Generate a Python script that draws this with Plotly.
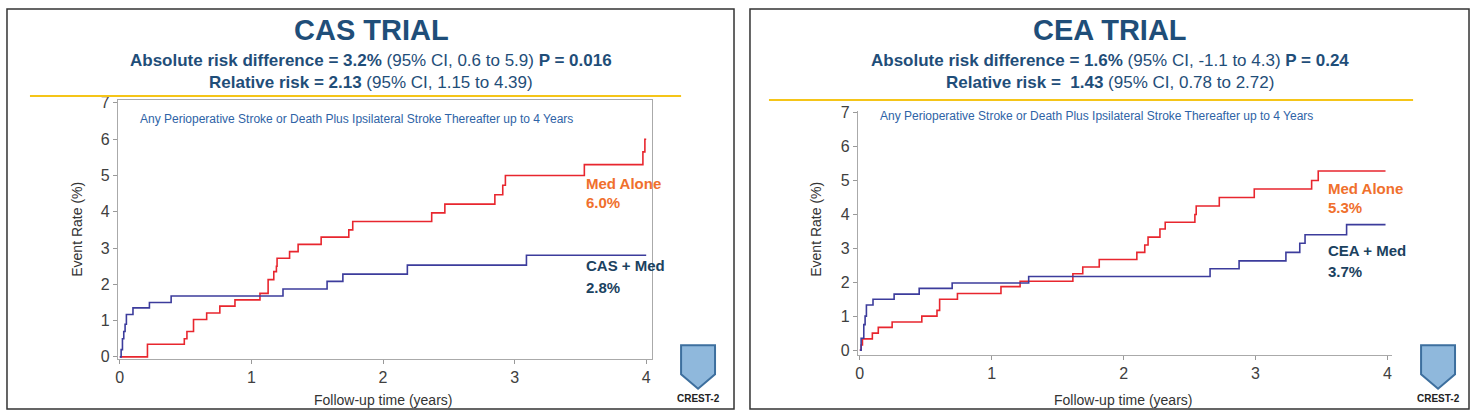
import plotly.graph_objects as go

W, H = 1474, 419
# CAS trial
cas_med_x = [0, 0.21, 0.49, 0.51, 0.56, 0.66, 0.76, 0.875, 1.065, 1.127, 1.17, 1.19, 1.195, 1.29, 1.355, 1.53, 1.74, 1.77, 2.37, 2.47, 2.85, 2.91, 2.93, 3.53, 3.975, 3.99, 4.0]
cas_med_y = [0, 0.35, 0.5, 0.7, 1.03, 1.21, 1.4, 1.57, 1.75, 2.13, 2.35, 2.5, 2.72, 2.9, 3.1, 3.3, 3.5, 3.73, 3.97, 4.21, 4.47, 4.73, 5.0, 5.3, 5.65, 6.0, 6.0]
cas_trt_x = [0, 0.01, 0.02, 0.03, 0.04, 0.05, 0.1, 0.225, 0.39, 1.24, 1.575, 1.695, 2.185, 3.09, 4.0]
cas_trt_y = [0, 0.2, 0.5, 0.7, 0.9, 1.17, 1.35, 1.5, 1.68, 1.87, 2.08, 2.28, 2.53, 2.8, 2.8]
# CEA trial
cea_med_x = [0, 0.01, 0.02, 0.095, 0.14, 0.245, 0.47, 0.585, 0.605, 0.74, 1.07, 1.215, 1.615, 1.69, 1.815, 2.1, 2.16, 2.185, 2.275, 2.315, 2.54, 2.55, 2.725, 2.99, 3.425, 3.475, 3.985]
cea_med_y = [0, 0.15, 0.33, 0.5, 0.67, 0.83, 1.0, 1.17, 1.5, 1.67, 1.87, 2.03, 2.25, 2.45, 2.67, 2.88, 3.1, 3.33, 3.57, 3.77, 4.0, 4.25, 4.5, 4.75, 5.0, 5.28, 5.28]
cea_trt_x = [0, 0.01, 0.03, 0.04, 0.05, 0.1, 0.26, 0.45, 0.7, 1.28, 2.655, 2.875, 3.23, 3.335, 3.375, 3.69, 3.985]
cea_trt_y = [0, 0.35, 0.75, 1.0, 1.33, 1.5, 1.65, 1.82, 1.98, 2.17, 2.4, 2.63, 2.88, 3.15, 3.4, 3.7, 3.7]

RED, BLUE = "#e8262e", "#3c3c9c"
NAVY = "#1f4e79"
ORANGE = "#f0702d"
DARK = "#1b4260"

fig = go.Figure()
for xs, ys, c, ax in [(cas_med_x, cas_med_y, RED, ""), (cas_trt_x, cas_trt_y, BLUE, ""),
                      (cea_med_x, cea_med_y, RED, "2"), (cea_trt_x, cea_trt_y, BLUE, "2")]:
    fig.add_trace(go.Scatter(x=xs, y=ys, mode="lines", line=dict(color=c, width=1.6, shape="hv"),
                             xaxis="x" + ax, yaxis="y" + ax, showlegend=False, hoverinfo="skip"))

tick = dict(family="Arial, Liberation Sans", size=16, color="#404040")
common = dict(showgrid=False, zeroline=False, ticks="outside", ticklen=4, tickcolor="#999",
              linecolor="#aaa", tickfont=tick, dtick=1)
fig.update_layout(
    width=W, height=H, margin=dict(l=0, r=0, t=0, b=0), paper_bgcolor="white", plot_bgcolor="white",
    xaxis=dict(common, domain=[116/W, 651/W], range=[-0.015, 4.045], mirror=True, showline=True),
    yaxis=dict(common, domain=[55/H, 322/H], range=[-0.05, 7.08], mirror=True, showline=True),
    xaxis2=dict(common, domain=[857/W, 1392/W], range=[-0.015, 4.035], showline=True, anchor="y2"),
    yaxis2=dict(common, domain=[59/H, 311/H], range=[-0.14, 7.06], showline=True, anchor="x2"),
)

def txt(x, y, s, size, color, bold=False, anchor="center", angle=0):
    fig.add_annotation(x=x/W, y=1-y/H, xref="paper", yref="paper", text=(f"<b>{s}</b>" if bold else s),
                       showarrow=False, xanchor=anchor, yanchor="middle", textangle=angle,
                       font=dict(family="Arial, Liberation Sans", size=size, color=color))

shapes = []
for x0, x1 in [(5, 733), (749, 1469)]:
    shapes.append(dict(type="rect", xref="paper", yref="paper", x0=x0/W, x1=x1/W, y0=1-416/H, y1=1-3/H,
                       line=dict(color="#333", width=1.5)))
shapes.append(dict(type="line", xref="paper", yref="paper", x0=28/W, x1=680/W, y0=1-93/H, y1=1-93/H, line=dict(color="#f5c518", width=2)))
shapes.append(dict(type="line", xref="paper", yref="paper", x0=768/W, x1=1413/W, y0=1-97/H, y1=1-97/H, line=dict(color="#f5c518", width=2)))

panels = [
    (370, "CAS TRIAL", "3.2%", "(95% CI, 0.6 to 5.9)", "0.016", "2.13", "(95% CI, 1.15 to 4.39)",
     136, 117, 583, "6.0%", "CAS + Med", "2.8%", 183, 268, 75, 382, 407, 697),
    (1110, "CEA TRIAL", "1.6%", "(95% CI, -1.1 to 4.3)", "0.24", " 1.43", "(95% CI, 0.78 to 2.72)",
     877, 114, 1326, "5.3%", "CEA + Med", "3.7%", 188, 252, 815, 1123, 407, 1438),
]
for (cx, title, ard, ci1, p, rr, ci2, capx, capy, lx, medp, trt, trtp, my, ty, ytx, xtx, xty, logox) in panels:
    txt(cx, 25, title, 29, NAVY, True)
    txt(cx, 56, f"<b>Absolute risk difference = {ard}</b> {ci1} <b>P = {p}</b>", 17, NAVY)
    txt(cx, 79, f"<b>Relative risk = {rr}</b> {ci2}", 17, NAVY)
    txt(capx, capy, "Any Perioperative Stroke or Death Plus Ipsilateral Stroke Thereafter up to 4 Years", 12, "#2e63a6", anchor="left")
    txt(lx, my, "Med Alone", 15, ORANGE, True, "left")
    txt(lx, my + 20, medp, 15, ORANGE, True, "left")
    txt(lx, ty, trt, 15, DARK, True, "left")
    txt(lx, ty + 22, trtp, 15, DARK, True, "left")
    txt(ytx, 230, "Event Rate (%)", 14, "#333", angle=-90)
    txt(xtx, xty, "Follow-up time (years)", 14, "#333")
    # logo
    shapes.append(dict(type="path", xref="paper", yref="paper",
                       path=f"M {(logox-17)/W},{1-350/H} L {(logox+17)/W},{1-350/H} L {(logox+17)/W},{1-380/H} L {logox/W},{1-395/H} L {(logox-17)/W},{1-380/H} Z",
                       fillcolor="#8fb8dc", line=dict(color="#3d6f9e", width=2)))
    txt(logox, 405, "CREST-2", 10, "#222", True)

fig.update_layout(shapes=shapes)
fig.write_html("out.html", config={"displayModeBar": False},
               post_script="document.body.style.margin='0';document.body.style.overflow='hidden';")
